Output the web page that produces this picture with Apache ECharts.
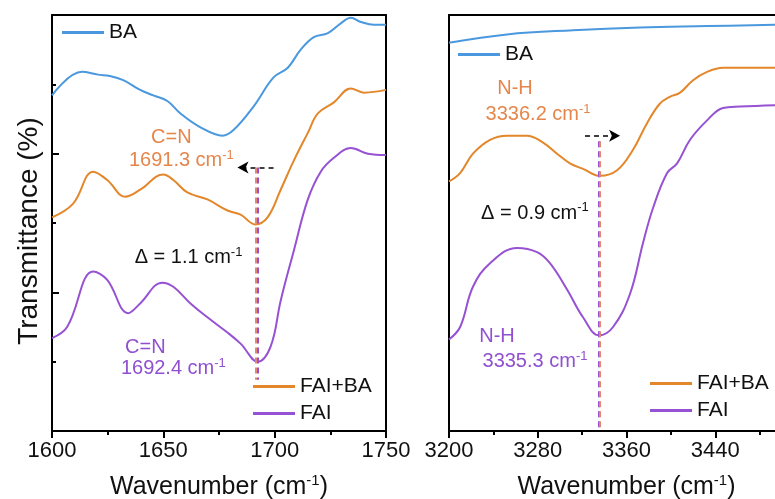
<!DOCTYPE html>
<html>
<head>
<meta charset="utf-8">
<script src="https://cdn.jsdelivr.net/npm/echarts@6/dist/echarts.min.js"></script>
<style>
  html, body { margin: 0; padding: 0; background: #fff; }
  #chart { width: 775px; height: 499px; }
</style>
</head>
<body>
<div id="chart"></div>
<script>
// left panel: C=N region
const baLeftX = [1600, 1613.5, 1620.7, 1626, 1632, 1639.6, 1645.5, 1651.8, 1657.7, 1666.7, 1676.6, 1681.5, 1690.5, 1699.5, 1705.9, 1711.7, 1717.6, 1723.9, 1729.7, 1734.2, 1738.7, 1744.6, 1750]
const baLeftY = [2.42, 2.59, 2.57, 2.56, 2.53, 2.46, 2.42, 2.38, 2.29, 2.19, 2.13, 2.17, 2.34, 2.55, 2.62, 2.75, 2.84, 2.87, 2.94, 2.98, 2.95, 2.93, 2.93]
const mixLeftX = [1600, 1609.5, 1618.5, 1624.8, 1632.9, 1639.6, 1650, 1654.5, 1660.8, 1669.8, 1678.8, 1684.7, 1691.3, 1696.8, 1702.7, 1708.6, 1714.9, 1719.4, 1726.6, 1734.2, 1740.1, 1750]
const mixLeftY = [1.54, 1.64, 1.87, 1.81, 1.69, 1.74, 1.85, 1.81, 1.72, 1.67, 1.59, 1.56, 1.49, 1.54, 1.74, 1.95, 2.15, 2.29, 2.37, 2.47, 2.44, 2.46]
const faiLeftX = [1600, 1606.8, 1618.5, 1624.8, 1634.2, 1639.6, 1649.5, 1654.5, 1662.2, 1669.8, 1678.8, 1684.7, 1692.4, 1698.2, 1702.7, 1708.6, 1714.9, 1720.7, 1726.6, 1734.2, 1741.9, 1750]
const faiLeftY = [0.67, 0.75, 1.15, 1.09, 0.85, 0.92, 1.07, 1.04, 0.92, 0.82, 0.71, 0.63, 0.50, 0.61, 0.94, 1.30, 1.67, 1.87, 1.97, 2.04, 2.00, 1.99]

// right panel: N-H region
const baRightX = [3200, 3252.3, 3311.8, 3372.2, 3432.6, 3494]
const baRightY = [2.80, 2.86, 2.89, 2.91, 2.92, 2.93]
const mixRightX = [3200, 3210, 3221.6, 3237, 3252.3, 3270.3, 3284.8, 3297.4, 3309, 3320.8, 3336.2, 3351.5, 3366, 3378.5, 3390, 3399, 3408.3, 3420, 3432.6, 3447, 3462.4, 3480.4, 3494]
const mixRightY = [1.80, 1.86, 2.00, 2.10, 2.13, 2.13, 2.08, 2.00, 1.93, 1.89, 1.84, 1.88, 2.03, 2.22, 2.36, 2.41, 2.44, 2.53, 2.59, 2.62, 2.62, 2.62, 2.62]
const faiRightX = [3200, 3210, 3221.6, 3237, 3261.3, 3279.4, 3291, 3306.4, 3320.8, 3335.3, 3347.9, 3363.2, 3375, 3384, 3396.6, 3405.6, 3417.3, 3432.6, 3447, 3462.4, 3494]
const faiRightY = [0.66, 0.75, 1.04, 1.21, 1.32, 1.29, 1.21, 1.02, 0.82, 0.69, 0.75, 0.99, 1.36, 1.61, 1.86, 1.93, 2.10, 2.24, 2.33, 2.34, 2.35]

// peak positions and annotation anchors (data units)
const peakLeftMix = 1691.3
const peakLeftFai = 1692.4
const peakRightMix = 3336.2
const peakRightFai = 3335.3
const dropLeft = [1.90, 0.37]
const dropRight = [2.09, 0]
const arrowLeft = [[1699.5, 1.90], [1683.3, 1.90]]
const arrowRight = [[3322.6, 2.13], [3354.2, 2.13]]

const leftTicks = { min: 1600, max: 1750, interval: 50 }
const rightTicks = { min: 3200, max: 3520, interval: 80 }

const font = "'Liberation Sans', Arial, sans-serif"
const blue = "#4a98de"
const orange = "#e3872a"
const purple = "#9652d2"
const orangeText = "#e5864c"
const purpleText = "#9150cf"

const sup = { fontSize: 13, fontFamily: font, padding: [0, 0, 11, 0] }

const zip = (xs, ys) => xs.map((x, i) => [x, ys[i]])

function textMark(coord, text, color) {
    return {
        coord,
        label: {
            show: true,
            position: "inside",
            formatter: text,
            color,
            fontSize: 20,
            fontFamily: font,
            rich: { sup: { ...sup, color } },
        },
    }
}

function dropLine(x, range, color) {
    return [
        { coord: [x, range[0]], symbol: "none", lineStyle: { color, type: [6, 4], width: 2 } },
        { coord: [x, range[1]], symbol: "none" },
    ]
}

function arrowLine(pts) {
    return [
        { coord: pts[0], symbol: "none", lineStyle: { color: "#000", type: [5, 4], width: 1.5 } },
        { coord: pts[1], symbol: "arrow", symbolSize: [9, 11] },
    ]
}

function lineSeries(name, data, color, xi, yi, extra) {
    return Object.assign({
        name,
        type: "line",
        xAxisIndex: xi,
        yAxisIndex: yi,
        data,
        smooth: 0.4,
        showSymbol: false,
        symbol: "none",
        clip: true,
        silent: true,
        lineStyle: { color, width: 2 },
        itemStyle: { color },
    }, extra || {})
}

const markPointBase = { symbol: "circle", symbolSize: 0, silent: true }
const markLineBase = { symbol: "none", silent: true, label: { show: false }, animation: false }

function bottomAxis(grid, ticks) {
    return {
        type: "value",
        gridIndex: grid,
        position: "bottom",
        min: ticks.min,
        max: ticks.max,
        interval: ticks.interval,
        name: "Wavenumber (cm{sup|-1})",
        nameLocation: "middle",
        nameGap: 42,
        nameTextStyle: { fontSize: 25, fontFamily: font, color: "#111", rich: { sup: { ...sup, fontSize: 15, padding: [0, 0, 13, 0] } } },
        axisLine: { show: true, onZero: false, lineStyle: { color: "#000", width: 2 } },
        axisTick: { show: true, inside: false, length: 7, lineStyle: { color: "#000", width: 2 } },
        minorTick: { show: true, splitNumber: 2, length: 4, lineStyle: { color: "#000", width: 2 } },
        axisLabel: {
            show: true,
            margin: 9,
            fontSize: 22,
            fontFamily: font,
            color: "#111",
            showMaxLabel: grid === 0,
            formatter: v => String(v),
        },
        splitLine: { show: false },
    }
}

function topAxis(grid, ticks) {
    return {
        type: "value",
        gridIndex: grid,
        position: "top",
        min: ticks.min,
        max: ticks.max,
        axisLine: { show: true, onZero: false, lineStyle: { color: "#000", width: 2 } },
        axisTick: { show: false },
        axisLabel: { show: false },
        splitLine: { show: false },
    }
}

function sideAxis(grid, pos, withTicks) {
    return {
        type: "value",
        gridIndex: grid,
        position: pos,
        min: 0,
        max: 3,
        interval: 1,
        name: grid === 0 && pos === "left" ? "Transmittance (%)" : "",
        nameLocation: "middle",
        nameGap: 9,
        nameTextStyle: { fontSize: 28, fontFamily: font, color: "#111", padding: [0, 16, 0, 0] },
        axisLine: { show: true, onZero: false, lineStyle: { color: "#000", width: 2 } },
        axisTick: { show: withTicks, inside: true, length: 7, lineStyle: { color: "#000", width: 2 } },
        minorTick: { show: withTicks, splitNumber: 2, length: 4, lineStyle: { color: "#000", width: 2 } },
        axisLabel: { show: false },
        splitLine: { show: false },
    }
}

function legendBox(left, top, names) {
    return {
        orient: "vertical",
        left,
        top,
        padding: 0,
        data: names,
        icon: "rect",
        itemWidth: 42,
        itemHeight: 3,
        itemGap: 6,
        selectedMode: false,
        textStyle: { fontSize: 21, fontFamily: font, color: "#111", lineHeight: 20 },
    }
}

const chart = echarts.init(document.getElementById("chart"))

chart.setOption({
    animation: false,
    backgroundColor: "#fff",
    grid: [
        { left: 52, right: 389, top: 15, bottom: 68, outerBoundsMode: "none" },
        { left: 449, right: -29, top: 15, bottom: 68, outerBoundsMode: "none" },
    ],
    xAxis: [bottomAxis(0, leftTicks), topAxis(0, leftTicks), bottomAxis(1, rightTicks), topAxis(1, rightTicks)],
    yAxis: [sideAxis(0, "left", true), sideAxis(0, "right", false), sideAxis(1, "left", false), sideAxis(1, "right", false)],
    legend: [
        legendBox(62, 22, ["BA"]),
        legendBox(253, 376, ["FAI+BA", "FAI"]),
        legendBox(458, 44, ["BA"]),
        legendBox(650, 373, ["FAI+BA", "FAI"]),
    ],
    series: [
        lineSeries("BA", zip(baLeftX, baLeftY), blue, 0, 0, {
            markLine: { ...markLineBase, data: [arrowLine(arrowLeft)] },
            markPoint: { ...markPointBase, data: [textMark([1661.3, 1.25], "\u0394 = 1.1 cm{sup|-1}", "#111")] },
        }),
        lineSeries("FAI+BA", zip(mixLeftX, mixLeftY), orange, 0, 0, {
            markLine: { ...markLineBase, data: [dropLine(peakLeftMix, dropLeft, "#e2876c")] },
            markPoint: {
                ...markPointBase,
                data: [
                    textMark([1653.6, 2.12], "C=N", orangeText),
                    textMark([1658.1, 1.95], peakLeftMix + " cm{sup|-1}", orangeText),
                ],
            },
        }),
        lineSeries("FAI", zip(faiLeftX, faiLeftY), purple, 0, 0, {
            markLine: { ...markLineBase, data: [dropLine(peakLeftFai, dropLeft, purple)] },
            markPoint: {
                ...markPointBase,
                data: [
                    textMark([1641.9, 0.60], "C=N", purpleText),
                    textMark([1654.5, 0.45], peakLeftFai + " cm{sup|-1}", purpleText),
                ],
            },
        }),
        lineSeries("BA", zip(baRightX, baRightY), blue, 2, 2, {
            markLine: { ...markLineBase, data: [arrowLine(arrowRight)] },
            markPoint: { ...markPointBase, data: [textMark([3277.5, 1.57], "\u0394 = 0.9 cm{sup|-1}", "#111")] },
        }),
        lineSeries("FAI", zip(faiRightX, faiRightY), purple, 2, 2, {
            markLine: { ...markLineBase, data: [dropLine(peakRightFai, dropRight, purple)] },
            markPoint: {
                ...markPointBase,
                data: [
                    textMark([3243.3, 0.68], "N-H", purpleText),
                    textMark([3277.5, 0.50], peakRightFai + " cm{sup|-1}", purpleText),
                ],
            },
        }),
        lineSeries("FAI+BA", zip(mixRightX, mixRightY), orange, 2, 2, {
            markLine: { ...markLineBase, data: [dropLine(peakRightMix, dropRight, "#e2876c")] },
            markPoint: {
                ...markPointBase,
                data: [
                    textMark([3259.5, 2.47], "N-H", orangeText),
                    textMark([3280.3, 2.28], peakRightMix + " cm{sup|-1}", orangeText),
                ],
            },
        }),
    ],
})
</script>
</body>
</html>
